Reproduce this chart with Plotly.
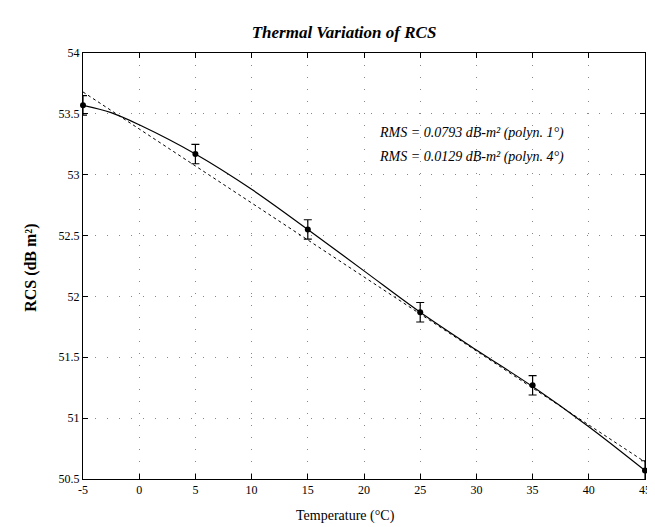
import plotly.graph_objects as go

# Measured data points
temps = [-5, 5, 15, 25, 35, 45]
rcs = [53.57, 53.17, 52.55, 51.87, 51.27, 50.57]
rcs_err = [0.08, 0.08, 0.08, 0.08, 0.08, 0.08]

# 4th-degree polynomial fit
poly4_t = [-5, -2.5, 0, 5, 10, 15, 20, 25, 30, 35, 40, 45]
poly4_v = [53.57, 53.51, 53.41, 53.17, 52.88, 52.55, 52.21, 51.87, 51.56, 51.26, 50.93, 50.57]

# 1st-degree (linear) fit
lin_t = [-5, 45]
lin_v = [53.68, 50.64]

x_ticks = [-5, 0, 5, 10, 15, 20, 25, 30, 35, 40, 45]
y_ticks = [50.5, 51, 51.5, 52, 52.5, 53, 53.5, 54]

rms_labels = ["RMS = 0.0793 dB-m² (polyn. 1°)", "RMS = 0.0129 dB-m² (polyn. 4°)"]

SERIF = "Liberation Serif, Times New Roman, serif"

fig = go.Figure()
fig.add_trace(go.Scatter(x=lin_t, y=lin_v, mode="lines",
                         line=dict(color="black", width=1, dash="dot"),
                         showlegend=False, hoverinfo="skip"))
fig.add_trace(go.Scatter(x=poly4_t, y=poly4_v, mode="lines",
                         line=dict(color="black", width=1.2, shape="spline"),
                         showlegend=False, hoverinfo="skip"))
fig.add_trace(go.Scatter(x=temps, y=rcs, mode="markers",
                         marker=dict(color="black", size=6),
                         error_y=dict(type="data", array=rcs_err, visible=True,
                                      color="black", thickness=1.2, width=4),
                         showlegend=False, cliponaxis=False))

axis_common = dict(
    showline=True, linecolor="black", linewidth=1, mirror="ticks",
    ticks="inside", ticklen=5, tickcolor="black",
    showgrid=True, gridcolor="#888", gridwidth=1, griddash="1px,11px",
    zeroline=False,
    tickfont=dict(family=SERIF, size=12, color="black"),
)

fig.update_xaxes(range=[-5, 45], tickvals=x_ticks,
                 ticktext=[str(v) for v in x_ticks], **axis_common)
fig.update_yaxes(range=[50.5, 54], tickvals=y_ticks,
                 ticktext=[("%g" % v) for v in y_ticks], **axis_common)

# Axis titles as annotations for exact placement
fig.add_annotation(xref="paper", yref="paper", x=0.467, y=-0.087,
                   xanchor="center", yanchor="middle", showarrow=False,
                   text="Temperature (°C)",
                   font=dict(family=SERIF, size=14, color="black"))
fig.add_annotation(xref="paper", yref="paper", x=-0.093, y=0.495,
                   xanchor="center", yanchor="middle", showarrow=False,
                   textangle=-90, text="RCS (dB m²)",
                   font=dict(family=SERIF, size=16, color="black", weight="bold"))

for i, txt in enumerate(rms_labels):
    fig.add_annotation(xref="paper", yref="paper", x=0.523, y=0.812 - i * 0.056,
                       xanchor="left", yanchor="middle", showarrow=False,
                       text=txt,
                       font=dict(family=SERIF, size=14, color="black", style="italic"))

fig.update_layout(
    width=655, height=527,
    margin=dict(l=75, r=12, t=45, b=56),
    paper_bgcolor="white", plot_bgcolor="white",
    title=dict(text="Thermal Variation of RCS", xref="container", x=0.513,
               xanchor="center", yref="container", y=0.955, yanchor="middle",
               font=dict(family=SERIF, size=17, color="black",
                         style="italic", weight="bold")),
)

fig.write_html("out.html")
